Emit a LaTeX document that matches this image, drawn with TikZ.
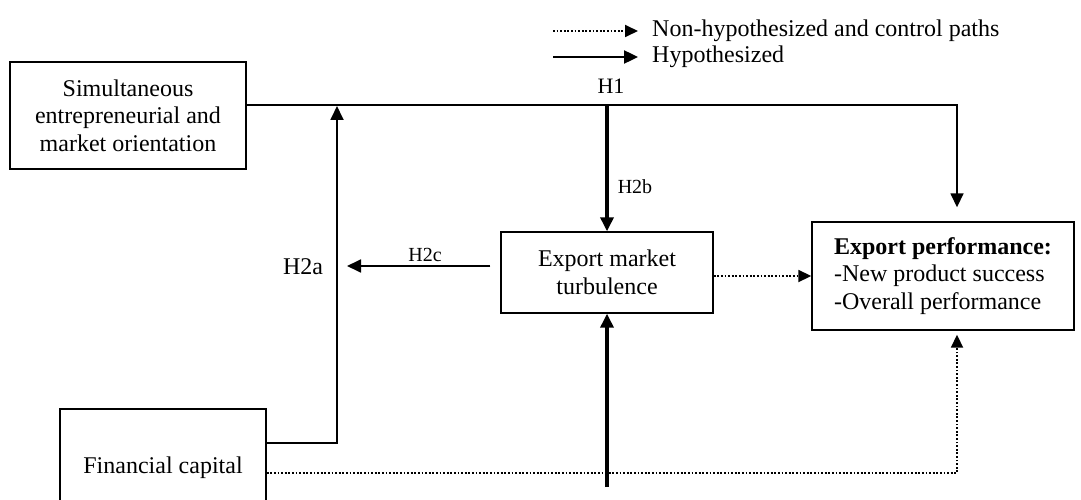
\documentclass[tikz,border=0pt]{standalone}
\usepackage{fontspec}
\setmainfont{Liberation Serif}
\usetikzlibrary{arrows.meta,calc}
\tikzset{
  block/.style={draw, line width=1.4pt, align=center, inner sep=0pt,
    font=\fontsize{24}{27.5}\selectfont},
  hyp/.style={line width=1.8pt, -{Triangle[length=14pt,width=13pt]}},
  hypthick/.style={line width=3.4pt, -{Triangle[length=14pt,width=13pt]}},
  nonhyp/.style={line width=1.8pt, dash pattern=on 1.8pt off 1.8pt,
    -{Triangle[length=13pt,width=12pt]}},
  legtext/.style={anchor=west, inner sep=0pt, font=\fontsize{24}{28}\selectfont},
  hlabel/.style={inner sep=0pt, font=\fontsize{20}{24}\selectfont},
}

\begin{document}
\begin{tikzpicture}[x=1pt,y=-1pt]
\useasboundingbox (0,0) rectangle (1081,500);

% legend
\node[legtext] (legnon) at (652,31) {Non-hypothesized and control paths};
\node[legtext] (leghyp) at (652,57) {Hypothesized};
\coordinate (legnonstart) at (553,31);
\coordinate (leghypstart) at (553,57);
\draw[nonhyp] (legnonstart) -- ([xshift=-14pt]legnon.west);
\draw[hyp, line width=2.4pt] (leghypstart) -- ([xshift=-14pt]leghyp.west);

% constructs
\node[block, minimum width=236pt, minimum height=107pt] (sim) at (128,115.5)
  {Simultaneous\\entrepreneurial and\\market orientation};
\node[block, minimum width=212pt, minimum height=81pt] (emt) at (607,272.5)
  {Export market\\turbulence};
\node[block, align=left, minimum width=262pt, minimum height=108pt] (perf) at (943,276)
  {\textbf{Export performance:}\\-New product success\\-Overall performance};
\node[block, minimum width=206pt, minimum height=118pt] (fin) at (163,468)
  {Financial capital};

% turning points and free ends
\coordinate (hsplit) at (607,105);
\coordinate (hcorner) at (957,105);
\coordinate (fincorner) at (337,443);
\coordinate (htwoajoin) at (337,106);
\coordinate (htwoctip) at (347,266);
\coordinate (ctrlcorner) at (957,473);
\coordinate (turbbase) at (607,487);

% hypothesized paths
\draw[hyp, line width=1.6pt] (sim.east |- hcorner) -- (hcorner)
  -- ($(hcorner |- perf.north)+(0,-14)$);
\draw[hypthick] (hsplit) -- (emt.north);
\draw[hyp] (fin.east |- fincorner) -- (fincorner) -- (htwoajoin);
\draw[hyp] ($(emt.west |- htwoctip)+(-10,0)$) -- (htwoctip);
\draw[hypthick] (turbbase) -- (emt.south);

% non-hypothesized and control paths
\draw[nonhyp] (emt.east |- perf.west) -- (perf.west);
\draw[nonhyp] (fin.east |- ctrlcorner) -- (ctrlcorner)
  -- ($(ctrlcorner |- perf.south)+(0,4)$);

% labels
\node[inner sep=0pt, font=\fontsize{22}{26}\selectfont] (lhone) at (611,86) {H1};
\node[inner sep=0pt, font=\fontsize{24}{28}\selectfont] (lhtwoa) at (303,267) {H2a};
\node[hlabel] (lhtwob) at (635,187) {H2b};
\node[hlabel] (lhtwoc) at (425,255) {H2c};

\end{tikzpicture}
\end{document}
